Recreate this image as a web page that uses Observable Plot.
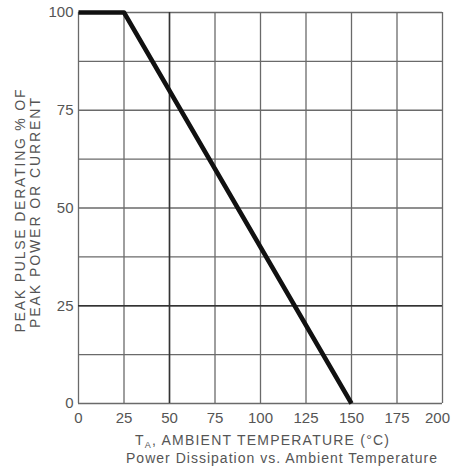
<!DOCTYPE html>
<html>
<head>
<meta charset="utf-8">
<script src="https://cdn.jsdelivr.net/npm/d3@7"></script>
<script src="https://cdn.jsdelivr.net/npm/@observablehq/plot@0.6"></script>
<style>
  html, body { margin: 0; padding: 0; background: #fff; }
  #chart { width: 452px; height: 472px; }
</style>
</head>
<body>
<div id="chart"></div>
<script>
// Data
const temperature = [0, 25, 150];          // T_A (°C)
const derating = [100, 100, 0];            // % of peak power or current
const xTicks = [0, 25, 50, 75, 100, 125, 150, 175, 200];
const yTicks = [0, 25, 50, 75, 100];
const yGrid = [0, 12.5, 25, 37.5, 50, 62.5, 75, 87.5, 100];
const xLabelMain = "T";
const xLabelSub = "A";
const xLabelRest = ", AMBIENT TEMPERATURE (°C)";
const yLabel1 = "PEAK PULSE DERATING % OF";
const yLabel2 = "PEAK POWER OR CURRENT";
const caption = "Power Dissipation vs. Ambient Temperature";

const data = temperature.map((t, i) => ({t, d: derating[i]}));

const textColor = "#555";
const gridColor = "#6a6a6a";

const lastTick = xTicks[xTicks.length - 1];

const plot = Plot.plot({
  width: 452,
  height: 472,
  marginLeft: 78,
  marginRight: 10,
  marginTop: 12,
  marginBottom: 69,
  x: {domain: [0, 200]},
  y: {domain: [0, 100]},
  style: {fontFamily: "'Liberation Sans', Arial, sans-serif", fontSize: "15px", color: textColor, background: "#fff"},
  marks: [
    Plot.ruleX(xTicks, {stroke: gridColor, strokeWidth: 1.3}),
    Plot.ruleY(yGrid, {stroke: gridColor, strokeWidth: 1.3}),
    Plot.ruleX([50], {stroke: "#333", strokeWidth: 1.5}),
    Plot.ruleY([25], {stroke: "#333", strokeWidth: 1.5}),
    Plot.line(data, {x: "t", y: "d", stroke: "#111", strokeWidth: 4.5, strokeLinecap: "butt"}),
    Plot.axisX({ticks: xTicks.slice(0, -1), tickSize: 0, tickPadding: 9, label: null, fill: textColor, tickFormat: d => String(d)}),
    Plot.axisX({ticks: [lastTick], tickSize: 0, tickPadding: 9, label: null, fill: textColor, dx: -5, tickFormat: d => String(d)}),
    Plot.axisY({ticks: yTicks, tickSize: 0, tickPadding: 5, label: null, fill: textColor, tickFormat: d => String(d)})
  ]
});

document.getElementById("chart").appendChild(plot);

const svg = d3.select(plot);
const font = "'Liberation Sans', Arial, sans-serif";

// X axis label with subscript
const xl = svg.append("text")
  .attr("x", 135).attr("y", 445)
  .attr("text-anchor", "start")
  .attr("font-family", font).attr("font-size", 14)
  .attr("fill", textColor)
  .attr("textLength", 254).attr("lengthAdjust", "spacing");
xl.append("tspan").text(xLabelMain);
xl.append("tspan").attr("font-size", 9).attr("dy", 3).text(xLabelSub);
xl.append("tspan").attr("dy", -3).text(xLabelRest);

// Caption
svg.append("text")
  .attr("x", 126).attr("y", 463)
  .attr("text-anchor", "start")
  .attr("font-family", font).attr("font-size", 14)
  .attr("fill", textColor)
  .attr("textLength", 311).attr("lengthAdjust", "spacing")
  .text(caption);

// Y axis label (two rotated lines)
svg.append("text")
  .attr("transform", "translate(25,211) rotate(-90)")
  .attr("text-anchor", "middle")
  .attr("font-family", font).attr("font-size", 14)
  .attr("fill", textColor)
  .attr("textLength", 243).attr("lengthAdjust", "spacing")
  .text(yLabel1);
svg.append("text")
  .attr("transform", "translate(40,213) rotate(-90)")
  .attr("text-anchor", "middle")
  .attr("font-family", font).attr("font-size", 14)
  .attr("fill", textColor)
  .attr("textLength", 230).attr("lengthAdjust", "spacing")
  .text(yLabel2);
</script>
</body>
</html>
